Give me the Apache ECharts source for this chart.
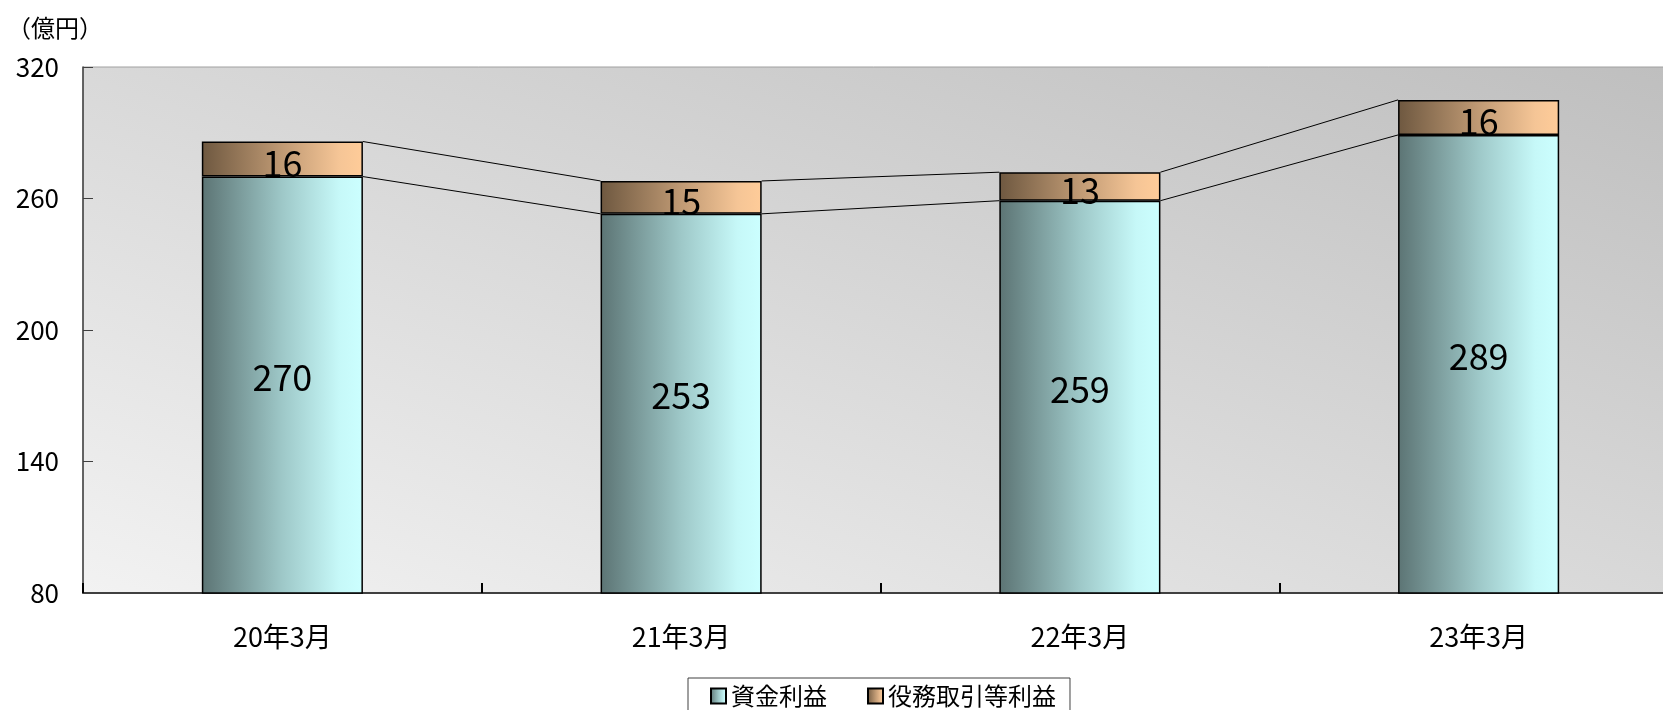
<!DOCTYPE html>
<html>
<head>
<meta charset="utf-8">
<script src="https://cdn.jsdelivr.net/npm/echarts@6/dist/echarts.min.js"></script>
<style>
  html, body { margin: 0; padding: 0; background: #ffffff; }
  #chart { width: 1663px; height: 710px; }
</style>
</head>
<body>
<div id="chart"></div>
<script>
// 利益の内訳（億円）
const categories = ['20年3月', '21年3月', '22年3月', '23年3月'];
const fundIncome = [270, 253, 259, 289];   // 資金利益
const feeIncome = [16, 15, 13, 16];        // 役務取引等利益
const yTicks = { min: 80, max: 320, interval: 60 };

const FONT = '"Noto Sans CJK JP", "Noto Sans", sans-serif';
const BAR_RATIO = 0.404;

const totals = fundIncome.map((v, i) => v + feeIncome[i]);

// connector segments between neighbouring bars
const links = [];
for (let i = 0; i < categories.length - 1; i++) {
  links.push([i, fundIncome[i], fundIncome[i + 1], totals[i], totals[i + 1]]);
}

const fundGrad = {
  type: 'linear', x: 0, y: 0, x2: 1, y2: 0,
  colorStops: [
    { offset: 0, color: '#5c7474' },
    { offset: 0.5, color: '#9ec8c8' },
    { offset: 0.85, color: '#c6f8f8' },
    { offset: 1, color: '#ccffff' }
  ]
};
const feeGrad = {
  type: 'linear', x: 0, y: 0, x2: 1, y2: 0,
  colorStops: [
    { offset: 0, color: '#6e5840' },
    { offset: 0.5, color: '#c09a74' },
    { offset: 0.85, color: '#f5c596' },
    { offset: 1, color: '#ffcc99' }
  ]
};

// plot background: light at lower left, darker toward upper right
const plotGrad = {
  type: 'linear', global: true,
  x: 83, y: 593, x2: 398, y2: -354,
  colorStops: [
    { offset: 0, color: '#f2f2f2' },
    { offset: 1, color: '#bfbfbf' }
  ]
};

const chart = echarts.init(document.getElementById('chart'), null, { renderer: 'canvas' });

chart.setOption({
  animation: false,
  backgroundColor: '#ffffff',
  title: {
    text: '（億円）',
    left: 2, top: 11,
    textStyle: { fontFamily: FONT, fontSize: 24, fontWeight: 'normal', color: '#000' }
  },
  grid: {
    left: 83, right: -15, top: 67, bottom: 117,
    outerBoundsMode: 'none',
    containLabel: false,
    show: true,
    borderColor: '#a0a0a0', borderWidth: 1,
    backgroundColor: plotGrad
  },
  legend: {
    left: 688, top: 678,
    padding: [6, 14, 6, 22],
    borderColor: '#404040', borderWidth: 1,
    itemWidth: 15, itemHeight: 15, itemGap: 40,
    icon: 'rect',
    textStyle: { fontFamily: FONT, fontSize: 24, color: '#000' },
    data: ['資金利益', '役務取引等利益']
  },
  xAxis: {
    type: 'category',
    data: categories,
    axisLine: { lineStyle: { color: '#404040', width: 2 } },
    axisTick: { show: true, inside: true, length: 10, interval: 0, lineStyle: { color: '#000', width: 2 } },
    axisLabel: { fontFamily: FONT, fontSize: 27, color: '#000', margin: 30 }
  },
  yAxis: {
    type: 'value',
    min: yTicks.min, max: yTicks.max, interval: yTicks.interval,
    axisLine: { show: true, lineStyle: { color: '#404040', width: 1.5 } },
    axisTick: { show: true, inside: true, length: 10, lineStyle: { color: '#404040' } },
    axisLabel: { fontFamily: FONT, fontSize: 26, color: '#000', margin: 24 },
    splitLine: { show: false }
  },
  series: [
    {
      name: '資金利益',
      type: 'bar',
      stack: 'total',
      barWidth: (BAR_RATIO * 100) + '%',
      data: fundIncome,
      itemStyle: { color: fundGrad, borderColor: '#000', borderWidth: 1.5 },
      label: {
        show: true, position: 'inside',
        fontFamily: FONT, fontSize: 36, color: '#000', offset: [0, -8]
      }
    },
    {
      name: '役務取引等利益',
      type: 'bar',
      stack: 'total',
      barWidth: (BAR_RATIO * 100) + '%',
      data: feeIncome,
      itemStyle: { color: feeGrad, borderColor: '#000', borderWidth: 1.5 },
      label: {
        show: true, position: 'inside',
        fontFamily: FONT, fontSize: 36, color: '#000', offset: [0, 4]
      }
    },
    {
      name: 'links',
      type: 'custom',
      silent: true,
      legendHoverLink: false,
      data: links,
      encode: { x: 0, y: 1 },
      z: 1,
      renderItem: function (params, api) {
        const i = api.value(0);
        const band = api.size([1, 0])[0];
        const half = band * BAR_RATIO / 2;
        const a0 = api.coord([i, api.value(1)]);
        const a1 = api.coord([i + 1, api.value(2)]);
        const t0 = api.coord([i, api.value(3)]);
        const t1 = api.coord([i + 1, api.value(4)]);
        const style = { stroke: '#000', lineWidth: 1, fill: null };
        return {
          type: 'group',
          children: [
            { type: 'line', shape: { x1: a0[0] + half, y1: a0[1], x2: a1[0] - half, y2: a1[1] }, style: style },
            { type: 'line', shape: { x1: t0[0] + half, y1: t0[1], x2: t1[0] - half, y2: t1[1] }, style: style }
          ]
        };
      }
    }
  ]
});
</script>
</body>
</html>
